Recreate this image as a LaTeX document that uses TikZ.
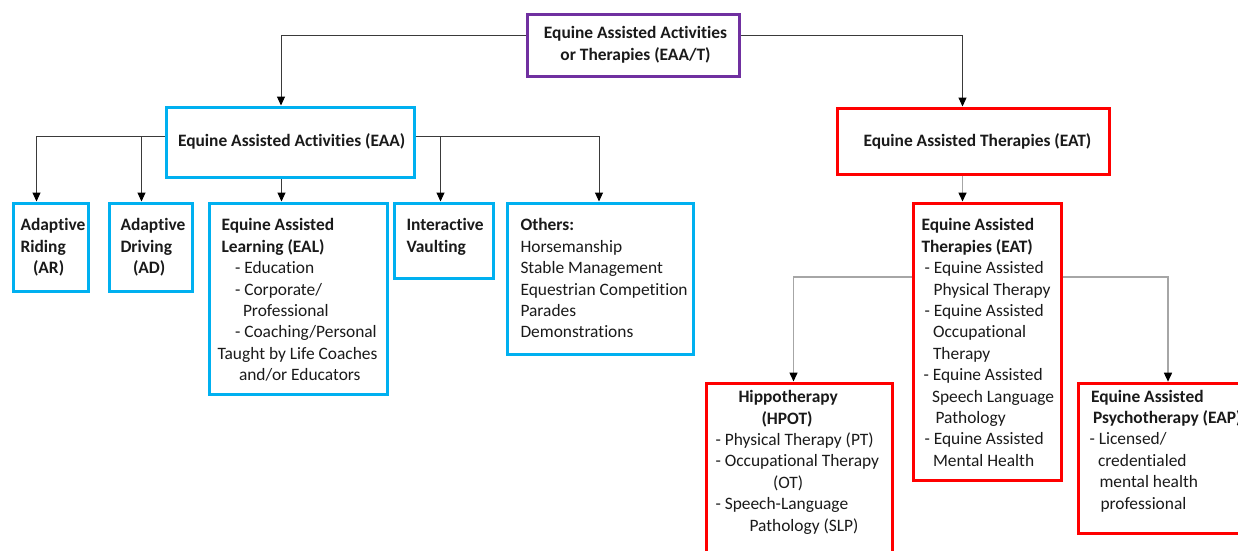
\documentclass[tikz,border=0pt]{standalone}
\usepackage{fontspec}
\setmainfont[Ligatures=NoCommon]{Carlito}
\usetikzlibrary{arrows.meta}
\definecolor{cpurple}{HTML}{7030A0}
\definecolor{ccyan}{HTML}{00B0F0}
\definecolor{cred}{HTML}{FF0000}
\definecolor{ctext}{HTML}{1A1A1A}
\definecolor{cdark}{HTML}{3A3A3A}
\definecolor{cgray}{HTML}{A6A6A6}
\newcommand{\lline}[2]{\hbox to \hsize{\hspace*{#1pt}#2\strut\hss}}
\newcommand{\cenline}[1]{\hbox to \hsize{\hss\hspace*{4pt}#1\strut\hss}}
\newcommand{\bxt}[4]{\parbox[c][#2pt][t]{#1pt}{\setlength{\parskip}{0pt}\vspace*{#3pt}#4}}
\begin{document}
\begin{tikzpicture}[x=1pt,y=-1pt,
  bx/.style={draw,line width=3pt,inner sep=0pt,anchor=north west,text=ctext,
    font=\fontsize{17.4}{21.4}\selectfont},
  conn/.style={draw=cdark,line width=1pt,-{Triangle[length=9pt,width=8pt,color=black]}},
  gconn/.style={draw=cgray,line width=1.5pt,-{Triangle[length=9pt,width=8pt,color=black]}}]
\useasboundingbox (0,0) rectangle (1238,550);
\fill[white] (0,0) rectangle (1238,550);
\clip (0,0) rectangle (1238,550);

% top level
\node[bx,draw=cpurple] (top) at (526,13) {\bxt{212}{62}{9.5}{%
  \cenline{\textbf{Equine Assisted Activities}}%
  \cenline{\textbf{or Therapies (EAA/T)}}}};

% second level
\node[bx,draw=ccyan] (EAA) at (164.5,105.5) {\bxt{248}{70.5}{24.5}{%
  \lline{12}{\textbf{Equine Assisted Activities (EAA)}}}};
\node[bx,draw=cred] (EAT1) at (836,106.5) {\bxt{271.5}{66.5}{23.5}{%
  \lline{26}{\textbf{Equine Assisted Therapies (EAT)}}}};

% third level, activities
\node[bx,draw=ccyan] (AR) at (12,201.5) {\bxt{75}{88.5}{13}{%
  \lline{7}{\textbf{Adaptive}}%
  \lline{7}{\textbf{Riding}}%
  \lline{19.5}{\textbf{(AR)}}}};
\node[bx,draw=ccyan] (AD) at (108,201.5) {\bxt{83}{88.5}{13}{%
  \lline{11}{\textbf{Adaptive}}%
  \lline{11}{\textbf{Driving}}%
  \lline{23.5}{\textbf{(AD)}}}};
\node[bx,draw=ccyan] (EAL) at (208,201.5) {\bxt{178}{191.5}{13}{%
  \lline{12}{\textbf{Equine Assisted}}%
  \lline{12}{\textbf{Learning (EAL)}}%
  \lline{25.5}{- Education}%
  \lline{25.5}{- Corporate/}%
  \lline{33.5}{Professional}%
  \lline{25.5}{- Coaching/Personal}%
  \lline{8}{Taught by Life Coaches}%
  \lline{29.5}{and/or Educators}}};
\node[bx,draw=ccyan] (IV) at (393,201.5) {\bxt{99}{75.5}{13}{%
  \lline{12}{\textbf{Interactive}}%
  \lline{12}{\textbf{Vaulting}}}};
\node[bx,draw=ccyan] (OTH) at (506,201.5) {\bxt{186}{151}{13}{%
  \lline{13}{\textbf{Others:}}%
  \lline{13}{Horsemanship}%
  \lline{13}{Stable Management}%
  \lline{13}{Equestrian Competition}%
  \lline{13}{Parades}%
  \lline{13}{Demonstrations}}};

% third level, therapies
\node[bx,draw=cred] (EAT2) at (912,201.5) {\bxt{147.5}{277.5}{13}{%
  \lline{8}{\textbf{Equine Assisted}}%
  \lline{8}{\textbf{Therapies (EAT)}}%
  \lline{11}{- Equine Assisted}%
  \lline{20}{Physical Therapy}%
  \lline{11}{- Equine Assisted}%
  \lline{19.5}{Occupational}%
  \lline{19.5}{Therapy}%
  \lline{10}{- Equine Assisted}%
  \lline{18.5}{Speech Language}%
  \lline{22}{Pathology}%
  \lline{11}{- Equine Assisted}%
  \lline{19.5}{Mental Health}}};

% fourth level
\node[bx,draw=cred] (HIP) at (705,381.5) {\bxt{186}{190}{4.8}{%
  \lline{32}{\textbf{Hippotherapy}}%
  \lline{55}{\textbf{(HPOT)}}%
  \lline{9}{- Physical Therapy (PT)}%
  \lline{9}{- Occupational Therapy}%
  \lline{66.5}{(OT)}%
  \lline{9}{- Speech-Language}%
  \lline{43}{Pathology (SLP)}}};
\node[bx,draw=cred] (EAP) at (1076.5,381.7) {\bxt{200}{150}{4}{%
  \lline{13}{\textbf{Equine Assisted}}%
  \lline{15}{\textbf{Psychotherapy (EAP)}}%
  \lline{11.5}{- Licensed/}%
  \lline{20}{credentialed}%
  \lline{21.5}{mental health}%
  \lline{22.5}{professional}}};

% connectors
\coordinate (jL) at (281,35);
\coordinate (jR) at (962.5,35);
\coordinate (jA) at (36.5,136);
\coordinate (jB) at (141.5,136);
\coordinate (jC) at (281.5,136);
\coordinate (jD) at (440.5,136);
\coordinate (jE) at (599,136);
\coordinate (jF) at (793.5,277);
\coordinate (jG) at (1168,277);
\coordinate (jH) at (962.5,190);

\draw[conn] (top.west |- jL) -| (jL |- EAA.north);
\draw[conn] (top.east |- jR) -| (jR |- EAT1.north);
\draw[conn] (EAA.west |- jA) -| (jA |- AR.north);
\draw[conn] (jB) -- (jB |- AD.north);
\draw[conn] (jC |- EAA.south) -- (jC |- EAL.north);
\draw[conn] (EAA.east |- jE) -| (jE |- OTH.north);
\draw[conn] (jD) -- (jD |- IV.north);

\draw[gconn] (jH |- EAT1.south) -- (jH |- EAT2.north);
\draw[gconn] (EAT2.west |- jF) -| (jF |- HIP.north);
\draw[gconn] (EAT2.east |- jG) -| (jG |- EAP.north);
\end{tikzpicture}
\end{document}
